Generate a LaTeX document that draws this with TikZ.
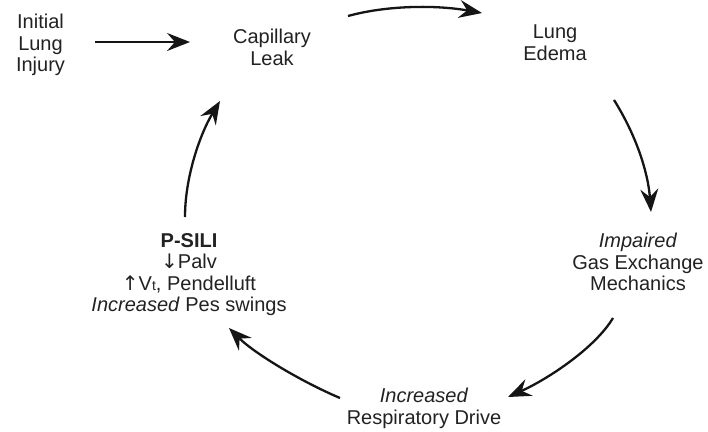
\documentclass[tikz,border=0pt]{standalone}
\usepackage{fontspec}
\setmainfont{Liberation Sans}
\newfontfamily\arrfont{DejaVu Sans}
\usetikzlibrary{arrows.meta}
\definecolor{txt}{HTML}{222222}
\definecolor{arr}{HTML}{151515}
\newcommand{\dnarr}{{\arrfont\fontsize{20}{20}\selectfont ↓}}
\newcommand{\uparr}{{\arrfont\fontsize{20}{20}\selectfont ↑}}
\begin{document}
\begin{tikzpicture}[x=1pt,y=-1pt,
  lbl/.style={anchor=north,align=center,inner sep=0pt,text=txt,
    font=\fontsize{20}{21.6}\selectfont},
  arrw/.style={draw=arr,line width=2.3pt,
    -{Stealth[length=23pt,width=18pt,inset=8pt]}}]
\useasboundingbox[fill=white] (0,0) rectangle (708,431);

\node[lbl] (init) at (40.5,14) {Initial\\Lung\\Injury};
\node[lbl] (cap) at (272,29) {Capillary\\Leak};
\node[lbl] (edema) at (555,25) {Lung\\Edema};
\node[lbl] (gas) at (638,233) {\textit{Impaired}\\Gas Exchange\\Mechanics};
\node[lbl] (drive) at (424,388) {\textit{Increased}\\Respiratory Drive};
\node[lbl] (psili) at (189,233) {\textbf{P-SILI}\\\dnarr Palv\\\uparr V{\fontsize{14}{14}\selectfont t}, Pendelluft\\\textit{Increased} Pes swings};

\draw[arrw] ([shift={(54.5,28)}]init.north) -- ([shift={(-82,13)}]cap.north);
\draw[arrw] ([shift={(76,-13)}]cap.north) .. controls +(40,-11) and +(-45,-8) .. ([shift={(-73,-12)}]edema.north);
\draw[arrw] ([shift={(59,75)}]edema.north) .. controls +(22,35) and +(-3,-40) .. ([shift={(13,-21)}]gas.north);
\draw[arrw] ([shift={(-25,85)}]gas.north) .. controls +(-18,30) and +(40,-18) .. ([shift={(84,9)}]drive.north);
\draw[arrw] ([shift={(-84,10)}]drive.north) .. controls +(-40,-17) and +(25,25) .. ([shift={(40,95)}]psili.north);
\draw[arrw] ([shift={(-4,-16)}]psili.north) .. controls +(0,-40) and +(-20,33) .. ([shift={(-52,72)}]cap.north);
\end{tikzpicture}
\end{document}
